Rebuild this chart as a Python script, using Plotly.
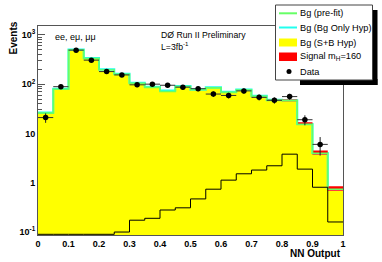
import math
import plotly.graph_objects as go

# ---- data (20 bins of NN output, width 0.05) ----
bin_edges = [round(i * 0.05, 2) for i in range(21)]
bg_sb = [25, 77, 480, 321, 189, 154, 101, 84, 68, 87, 74, 82, 66, 74, 55, 46, 45, 14.9, 3.7, 0.69]
bg_only = [26.5, 81, 505, 338, 200, 163, 107, 89, 74, 92, 78, 87, 70, 78, 58, 48.5, 47, 15.6, 4.0, 0.76]
bg_prefit = [25.8, 79, 492, 329, 194, 158, 104, 86, 71, 89, 76, 84, 68, 76, 56.5, 47, 46.5, 15.3, 3.95, 0.74]
signal = [0.09, 0.09, 0.09, 0.09, 0.09, 0.10, 0.174, 0.19, 0.28, 0.31, 0.47, 0.74, 1.13, 1.52, 1.81, 2.21, 3.80, 1.89, 0.81, 0.16]
data = [21, 89, 490, 307, 180, 154, 97, 100, 95, 87, 81, 63, 59, 73, 54, 47, 56, 19, 6, None]

x_ticks = [0, 0.1, 0.2, 0.3, 0.4, 0.5, 0.6, 0.7, 0.8, 0.9, 1]
x_ticktext = ["0", "0.1", "0.2", "0.3", "0.4", "0.5", "0.6", "0.7", "0.8", "0.9", "1"]
y_ticks = [0.1, 1, 10, 100, 1000]
y_ticktext = ["10<sup>-1</sup>", "1", "10", "10<sup>2</sup>", "10<sup>3</sup>"]
y_minor = [m * 10 ** e for e in range(-1, 4) for m in range(2, 10)]

FONT = "Liberation Sans, Arial, Helvetica, sans-serif"
W, H = 382, 262
L, R, T, B = 38, 39, 26, 27
PW, PH = W - L - R, H - T - B

def px(xp):
    return (xp - L) / PW

def py(yp):
    return (H - B - yp) / PH

centers = [(bin_edges[i] + bin_edges[i + 1]) / 2 for i in range(20)]
bw = 0.05

fig = go.Figure()

# yellow S+B background
fig.add_trace(go.Bar(x=centers, y=bg_sb, width=bw, marker=dict(color="#ffff00", line=dict(width=0)),
                     showlegend=False, hoverinfo="skip"))

# cyan bg-only outline
fig.add_trace(go.Scatter(x=bin_edges, y=bg_only + [bg_only[-1]], mode="lines", line_shape="hv",
                         line=dict(color="#22ffee", width=2), showlegend=False, hoverinfo="skip"))

# red signal stacked on S+B background
rx, ry = [], []
for i in range(20):
    lo, hi = bin_edges[i], bin_edges[i + 1]
    b0, b1 = bg_sb[i], bg_sb[i] + signal[i]
    rx += [lo, hi, hi, lo, lo, None]
    ry += [b0, b0, b1, b1, b0, None]
fig.add_trace(go.Scatter(x=rx, y=ry, mode="lines", fill="toself", fillcolor="#ff0000",
                         line=dict(width=0, color="#ff0000"), showlegend=False, hoverinfo="skip"))

# green pre-fit outline
fig.add_trace(go.Scatter(x=bin_edges, y=bg_prefit + [bg_prefit[-1]], mode="lines", line_shape="hv",
                         line=dict(color="#66ff66", width=1.6), showlegend=False, hoverinfo="skip"))

# signal black outline
fig.add_trace(go.Scatter(x=bin_edges, y=signal + [signal[-1]], mode="lines", line_shape="hv",
                         line=dict(color="#000000", width=1), showlegend=False, hoverinfo="skip"))

# data points
errs = [math.sqrt(d) if d else 0 for d in data]
fig.add_trace(go.Scatter(x=centers, y=data, mode="markers",
                         marker=dict(color="black", size=5.5),
                         error_y=dict(type="data", array=errs, color="#222222", thickness=1, width=0),
                         error_x=dict(type="constant", value=bw / 2, color="#333333", thickness=1, width=0),
                         showlegend=False, hoverinfo="skip"))

shapes = []
annotations = []

# legend box with shadow
shapes.append(dict(type="rect", xref="paper", yref="paper", x0=px(300), x1=px(377.5), y0=py(85), y1=py(79),
                   fillcolor="black", line=dict(width=0), layer="above"))
shapes.append(dict(type="rect", xref="paper", yref="paper", x0=px(372), x1=px(377.5), y0=py(85), y1=py(10),
                   fillcolor="black", line=dict(width=0), layer="above"))
shapes.append(dict(type="rect", xref="paper", yref="paper", x0=px(275.5), x1=px(372.5), y0=py(80), y1=py(5),
                   fillcolor="white", line=dict(width=1, color="#444444"), layer="above"))
# legend symbols
shapes.append(dict(type="line", xref="paper", yref="paper", x0=px(279), x1=px(297), y0=py(13.3), y1=py(13.3),
                   line=dict(color="#66ff66", width=2), layer="above"))
shapes.append(dict(type="line", xref="paper", yref="paper", x0=px(279), x1=px(297), y0=py(27.5), y1=py(27.5),
                   line=dict(color="#22ffee", width=2), layer="above"))
shapes.append(dict(type="rect", xref="paper", yref="paper", x0=px(279), x1=px(297), y0=py(46.5), y1=py(38.5),
                   fillcolor="#ffff00", line=dict(width=0), layer="above"))
shapes.append(dict(type="rect", xref="paper", yref="paper", x0=px(279), x1=px(297), y0=py(61), y1=py(52.5),
                   fillcolor="#ff0000", line=dict(width=0), layer="above"))
shapes.append(dict(type="circle", xref="paper", yref="paper", x0=px(286.5), x1=px(291.5), y0=py(74), y1=py(69),
                   fillcolor="black", line=dict(width=0), layer="above"))

leg_labels = ["Bg (pre-fit)", "Bg (Bg Only Hyp)", "Bg (S+B Hyp)", "Signal m<sub>H</sub>=160", "Data"]
leg_y = [13, 28, 42.5, 56.5, 72]
for lab, yy in zip(leg_labels, leg_y):
    annotations.append(dict(text=lab, xref="paper", yref="paper", x=px(298), y=py(yy), xanchor="left",
                            yanchor="middle", showarrow=False, font=dict(family=FONT, size=9.2, color="black")))

# texts
annotations.append(dict(text="ee, eμ, μμ", xref="paper", yref="paper", x=px(53), y=py(36.5), xanchor="left",
                        yanchor="middle", showarrow=False, font=dict(family=FONT, size=9, color="black")))
annotations.append(dict(text="DØ Run II Preliminary", xref="paper", yref="paper", x=px(159), y=py(35.5),
                        xanchor="left", yanchor="middle", showarrow=False,
                        font=dict(family=FONT, size=8.7, color="black")))
annotations.append(dict(text="L=3fb<sup>-1</sup>", xref="paper", yref="paper", x=px(159), y=py(45.5),
                        xanchor="left", yanchor="middle", showarrow=False,
                        font=dict(family=FONT, size=8.7, color="black")))
annotations.append(dict(text="<b>Events</b>", xref="paper", yref="paper", x=px(13.5), y=py(38), textangle=-90,
                        xanchor="center", yanchor="middle", showarrow=False,
                        font=dict(family=FONT, size=10, color="black")))
annotations.append(dict(text="<b>NN Output</b>", xref="paper", yref="paper", x=px(343), y=py(253),
                        xanchor="right", yanchor="middle", showarrow=False,
                        font=dict(family=FONT, size=10, color="black")))

fig.update_layout(
    width=W, height=H,
    margin=dict(l=L, r=R, t=T, b=B, pad=0),
    paper_bgcolor="white", plot_bgcolor="white",
    bargap=0, showlegend=False, hovermode=False,
    shapes=shapes, annotations=annotations,
    font=dict(family=FONT, size=9, color="black"),
    xaxis=dict(range=[0, 1], tickmode="array", tickvals=x_ticks, ticktext=x_ticktext,
               ticks="inside", ticklen=6, tickcolor="#555555", showline=True, mirror=True,
               linecolor="#555555", linewidth=1, showgrid=False, zeroline=False, fixedrange=True,
               layer="below traces", tickfont=dict(family=FONT, size=9, color="black", weight="bold")),
    yaxis=dict(type="log", range=[-1.06, 3.18], tickmode="array", tickvals=y_ticks, ticktext=y_ticktext,
               ticks="inside", ticklen=7, tickcolor="#555555", showline=True, mirror=True,
               linecolor="#555555", linewidth=1, showgrid=False, zeroline=False, fixedrange=True,
               minor=dict(tickmode="array", tickvals=y_minor, ticks="inside", ticklen=4, tickcolor="#555555"),
               layer="below traces", tickfont=dict(family=FONT, size=9, color="black", weight="bold")),
)

fig.write_html("out.html", config={"displayModeBar": False, "staticPlot": True},
               post_script="document.body.style.margin='0px';document.body.style.padding='0px';"
                           "document.body.style.overflow='hidden';")
